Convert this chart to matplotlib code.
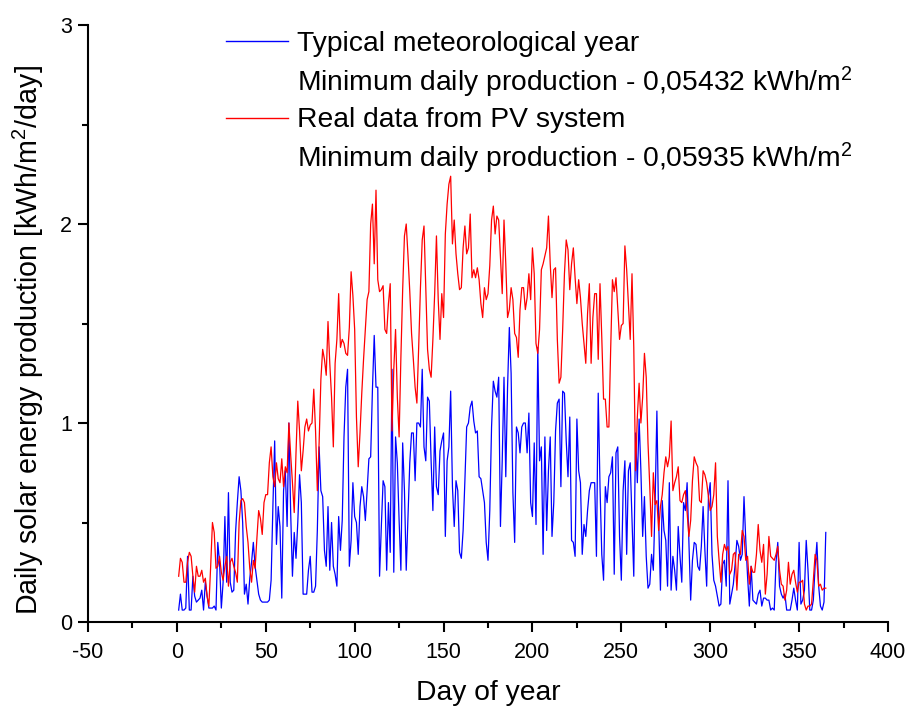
import matplotlib
matplotlib.use("Agg")
import matplotlib.pyplot as plt
from matplotlib.lines import Line2D
from matplotlib.ticker import MultipleLocator
import numpy as np

plt.rcParams['font.family'] = ['Liberation Sans', 'DejaVu Sans']
plt.rcParams['mathtext.fontset'] = 'custom'
plt.rcParams['mathtext.rm'] = 'Liberation Sans'
plt.rcParams['mathtext.it'] = 'Liberation Sans:italic'
plt.rcParams['mathtext.bf'] = 'Liberation Sans:bold'
plt.rcParams['axes.unicode_minus'] = False

days = list(range(1, 366))

tmy = [
    0.06, 0.14, 0.06, 0.06, 0.07, 0.33, 0.06, 0.06, 0.23, 0.13,
    0.10, 0.11, 0.12, 0.16, 0.06, 0.20, 0.13, 0.07, 0.07, 0.07,
    0.08, 0.06, 0.40, 0.30, 0.07, 0.20, 0.53, 0.20, 0.65, 0.20,
    0.15, 0.16, 0.45, 0.60, 0.73, 0.66, 0.50, 0.14, 0.19, 0.09,
    0.22, 0.30, 0.40, 0.28, 0.21, 0.14, 0.11, 0.10, 0.10, 0.10,
    0.10, 0.11, 0.21, 0.58, 0.91, 0.39, 0.58, 0.48, 0.12, 0.66,
    0.76, 0.48, 1.00, 0.55, 0.23, 0.45, 0.32, 0.50, 0.74, 0.60,
    0.14, 0.14, 0.14, 0.26, 0.33, 0.15, 0.15, 0.18, 0.46, 0.88,
    0.66, 0.63, 0.36, 0.28, 0.58, 0.26, 0.50, 0.28, 0.24, 0.18,
    0.53, 0.36, 0.51, 0.93, 1.18, 1.27, 0.28, 0.41, 0.70, 0.53,
    0.50, 0.34, 0.58, 0.68, 0.63, 0.51, 0.66, 0.82, 0.83, 1.17,
    1.44, 1.18, 1.18, 0.23, 0.48, 0.71, 0.68, 0.26, 0.60, 0.35,
    1.27, 0.25, 0.93, 0.80, 0.51, 0.26, 0.90, 0.66, 0.26, 0.53,
    0.80, 0.95, 0.95, 0.71, 1.00, 1.00, 0.98, 1.27, 0.88, 0.81,
    1.13, 1.11, 0.81, 0.56, 0.98, 0.68, 0.64, 0.86, 0.91, 0.95,
    0.43, 0.81, 0.88, 1.16, 0.68, 0.48, 0.71, 0.66, 0.35, 0.32,
    0.46, 0.71, 0.98, 1.00, 1.08, 1.11, 1.01, 0.95, 0.96, 0.73,
    0.72, 0.66, 0.60, 0.40, 0.31, 0.56, 0.98, 1.21, 1.16, 1.13,
    1.23, 0.48, 0.81, 1.23, 0.73, 1.18, 1.48, 1.25, 0.65, 0.40,
    0.98, 0.95, 0.85, 0.98, 1.00, 1.00, 0.85, 1.05, 0.60, 0.53,
    0.90, 0.49, 1.38, 0.81, 0.88, 0.34, 0.93, 0.46, 0.76, 0.93,
    0.43, 0.60, 0.96, 1.10, 1.12, 0.68, 1.16, 1.15, 0.91, 0.73,
    1.03, 0.41, 0.40, 0.33, 1.02, 0.76, 0.70, 0.34, 0.49, 0.43,
    0.56, 0.66, 0.70, 0.70, 0.70, 0.33, 1.15, 0.68, 0.34, 0.21,
    0.68, 0.60, 0.73, 0.75, 0.83, 0.24, 0.85, 0.88, 0.43, 0.21,
    0.66, 0.81, 0.34, 0.76, 0.80, 0.51, 0.23, 0.95, 0.70, 1.02,
    0.76, 0.43, 0.63, 0.33, 0.17, 0.19, 0.34, 0.26, 0.60, 1.06,
    0.51, 0.16, 0.61, 0.46, 0.41, 0.18, 0.70, 0.16, 0.33, 0.26,
    0.16, 0.48, 0.33, 0.20, 0.60, 0.56, 0.70, 0.41, 0.11, 0.31,
    0.40, 0.39, 0.28, 0.26, 0.38, 0.58, 0.36, 0.18, 0.63, 0.70,
    0.34, 0.21, 0.18, 0.13, 0.08, 0.09, 0.29, 0.31, 0.18, 0.71,
    0.09, 0.14, 0.19, 0.29, 0.41, 0.38, 0.31, 0.34, 0.63, 0.41,
    0.23, 0.08, 0.28, 0.11, 0.10, 0.09, 0.14, 0.16, 0.08, 0.12,
    0.12, 0.11, 0.11, 0.06, 0.07, 0.06, 0.30, 0.40, 0.18, 0.14,
    0.12, 0.14, 0.06, 0.06, 0.06, 0.11, 0.17, 0.11, 0.06, 0.40,
    0.09, 0.11, 0.16, 0.41, 0.26, 0.06, 0.06, 0.11, 0.28, 0.40,
    0.18, 0.08, 0.06, 0.10, 0.45,
]

pv = [
    0.23, 0.32, 0.30, 0.20, 0.20, 0.30, 0.35, 0.33, 0.23, 0.15,
    0.28, 0.23, 0.23, 0.26, 0.20, 0.22, 0.13, 0.08, 0.28, 0.50,
    0.45, 0.27, 0.28, 0.33, 0.25, 0.21, 0.28, 0.33, 0.18, 0.30,
    0.32, 0.28, 0.25, 0.20, 0.50, 0.61, 0.62, 0.60, 0.48, 0.40,
    0.27, 0.20, 0.31, 0.27, 0.42, 0.56, 0.52, 0.44, 0.60, 0.64,
    0.64, 0.80, 0.88, 0.73, 0.68, 0.80, 0.72, 0.70, 0.82, 0.68,
    0.78, 0.75, 1.00, 0.84, 0.70, 0.55, 0.85, 1.11, 0.96, 0.76,
    0.86, 0.98, 1.02, 0.96, 0.99, 1.00, 1.17, 0.96, 0.66, 0.90,
    1.22, 1.37, 1.32, 1.24, 1.51, 1.30, 1.13, 0.88, 1.30, 1.42,
    1.65, 1.38, 1.42, 1.40, 1.35, 1.34, 1.48, 1.76, 1.64, 1.47,
    1.03, 0.78, 0.95, 1.15, 1.32, 1.47, 1.62, 1.66, 2.00, 2.10,
    1.80, 2.17, 1.72, 1.66, 1.67, 1.69, 1.47, 1.45, 1.60, 1.70,
    0.96, 1.27, 1.47, 1.13, 0.93, 1.33, 1.67, 1.94, 2.00, 1.84,
    1.66, 1.45, 1.32, 1.18, 1.10, 1.38, 1.68, 1.92, 1.99, 1.68,
    1.37, 1.27, 1.23, 1.42, 1.65, 1.94, 1.62, 1.42, 1.65, 1.53,
    1.95, 2.10, 2.20, 2.24, 1.90, 2.02, 1.85, 1.75, 1.67, 1.68,
    1.88, 1.99, 1.85, 1.88, 2.05, 1.73, 1.77, 1.73, 1.78, 1.72,
    1.60, 1.53, 1.68, 1.62, 1.65, 1.79, 2.02, 2.09, 1.95, 2.04,
    2.02, 1.84, 1.65, 2.02, 1.80, 1.53, 1.57, 1.68, 1.62, 1.45,
    1.43, 1.33, 1.57, 1.68, 1.68, 1.57, 1.63, 1.75, 1.62, 1.88,
    1.75, 1.40, 1.35, 1.47, 1.77, 1.80, 1.84, 1.88, 2.04, 1.80,
    1.63, 1.77, 1.78, 1.42, 1.20, 1.23, 1.47, 1.75, 1.92, 1.87,
    1.67, 1.80, 1.88, 1.73, 1.60, 1.72, 1.63, 1.50, 1.40, 1.30,
    1.55, 1.70, 1.30, 1.53, 1.65, 1.65, 1.32, 1.70, 1.43, 1.12,
    1.12, 0.98, 0.98, 1.37, 1.72, 1.66, 1.73, 1.57, 1.42, 1.49,
    1.50, 1.89, 1.77, 1.60, 1.42, 1.75, 1.38, 0.76, 1.03, 1.20,
    1.00, 1.13, 1.35, 1.23, 0.90, 0.68, 0.43, 0.75, 0.59, 0.61,
    0.46, 0.58, 0.64, 0.75, 0.83, 0.78, 0.83, 1.01, 0.66, 0.70,
    0.73, 0.78, 0.61, 0.60, 0.64, 0.66, 0.55, 0.43, 0.51, 0.71,
    0.83, 0.80, 0.78, 0.61, 0.60, 0.76, 0.74, 0.70, 0.63, 0.56,
    0.58, 0.64, 0.80, 0.43, 0.31, 0.20, 0.34, 0.39, 0.36, 0.38,
    0.24, 0.26, 0.34, 0.35, 0.16, 0.34, 0.34, 0.46, 0.43, 0.31,
    0.33, 0.19, 0.28, 0.25, 0.25, 0.34, 0.49, 0.36, 0.30, 0.39,
    0.14, 0.24, 0.43, 0.33, 0.32, 0.31, 0.34, 0.38, 0.26, 0.19,
    0.18, 0.11, 0.16, 0.30, 0.19, 0.24, 0.26, 0.20, 0.15, 0.20,
    0.20, 0.21, 0.09, 0.06, 0.08, 0.08, 0.09, 0.21, 0.34, 0.31,
    0.18, 0.19, 0.16, 0.17, 0.17,
]

labels = [
    "Typical meteorological year",
    "Minimum daily production - 0,05432 kWh/m$^2$",
    "Real data from PV system",
    "Minimum daily production - 0,05935 kWh/m$^2$",
]

fig = plt.figure(figsize=(9.09, 7.07), dpi=100)
ax = fig.add_axes([88/909, 1-622/707, 800/909, 597/707])

l_tmy, = ax.plot(days, tmy, color='#0000ff', lw=0.9)
l_pv, = ax.plot(days, pv, color='#ff0000', lw=0.9)

ax.set_xlim(-50, 400)
ax.set_ylim(0, 3)
ax.xaxis.set_major_locator(MultipleLocator(50))
ax.xaxis.set_minor_locator(MultipleLocator(25))
ax.yaxis.set_major_locator(MultipleLocator(1))
ax.yaxis.set_minor_locator(MultipleLocator(0.5))

for s in ['top', 'right']:
    ax.spines[s].set_visible(False)
for s in ['left', 'bottom']:
    ax.spines[s].set_linewidth(1.5)

ax.tick_params(which='major', direction='out', length=7.5, width=1.5,
               labelsize=15.5)
ax.tick_params(axis='x', which='major', pad=7)
ax.tick_params(axis='y', which='major', pad=4)
ax.tick_params(which='minor', direction='out', length=4, width=1.5)

ax.set_xlabel("Day of year", fontsize=20.3, labelpad=12)
ax.set_ylabel("Daily solar energy production [kWh/m$^2$/day]", fontsize=20.6,
              labelpad=10)
ax.yaxis.label.set_y(0.472)

blank = Line2D([], [], alpha=0)
leg = ax.legend([l_tmy, blank, l_pv, blank], labels, loc='upper left',
                bbox_to_anchor=(226/909, 1-31/707),
                bbox_transform=fig.transFigure, frameon=False, fontsize=20.3,
                handlelength=2.2, handletextpad=0.32, borderpad=0,
                borderaxespad=0, labelspacing=0.27)
for h in leg.legend_handles:
    h.set_linewidth(1.0)

fig.savefig("out.png", dpi=100)
